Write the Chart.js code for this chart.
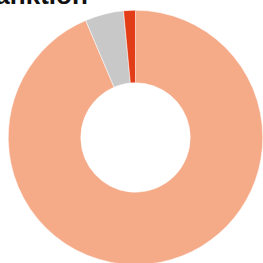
<!DOCTYPE html>
<html>
<head>
<meta charset="utf-8">
<script src="https://cdn.jsdelivr.net/npm/chart.js@4"></script>
<style>
  html, body { margin: 0; padding: 0; background: #fff; overflow: hidden; width: 263px; height: 263px; }
  #title { position: absolute; left: -22px; top: -20px; font: bold 26px "Liberation Sans", Arial, sans-serif; color: #111; white-space: nowrap; }
  #wrap { position: absolute; left: 0; top: 0; width: 263px; height: 275px; }
</style>
</head>
<body>
<div id="title">Sanktion</div>
<div id="wrap"><canvas id="chart"></canvas></div>
<script>
// slice values, share in percent
const labels = ["Ja", "Nein", "Weiss nicht"];
const values = [93.6, 4.9, 1.5];
const colors = ["#F5AA88", "#C8C8C8", "#E23D17"];

const ctx = document.getElementById("chart").getContext("2d");
new Chart(ctx, {
  type: "doughnut",
  data: {
    labels: labels,
    datasets: [
      {
        data: values,
        backgroundColor: colors,
        borderColor: "#ffffff",
        borderWidth: 0.5,
      },
    ],
  },
  options: {
    responsive: true,
    maintainAspectRatio: false,
    animation: false,
    cutout: "43%",
    layout: { padding: { top: 10, left: 8, right: 0, bottom: 10 } },
    plugins: {
      legend: { display: false },
      tooltip: { enabled: false },
    },
  },
});
</script>
</body>
</html>
